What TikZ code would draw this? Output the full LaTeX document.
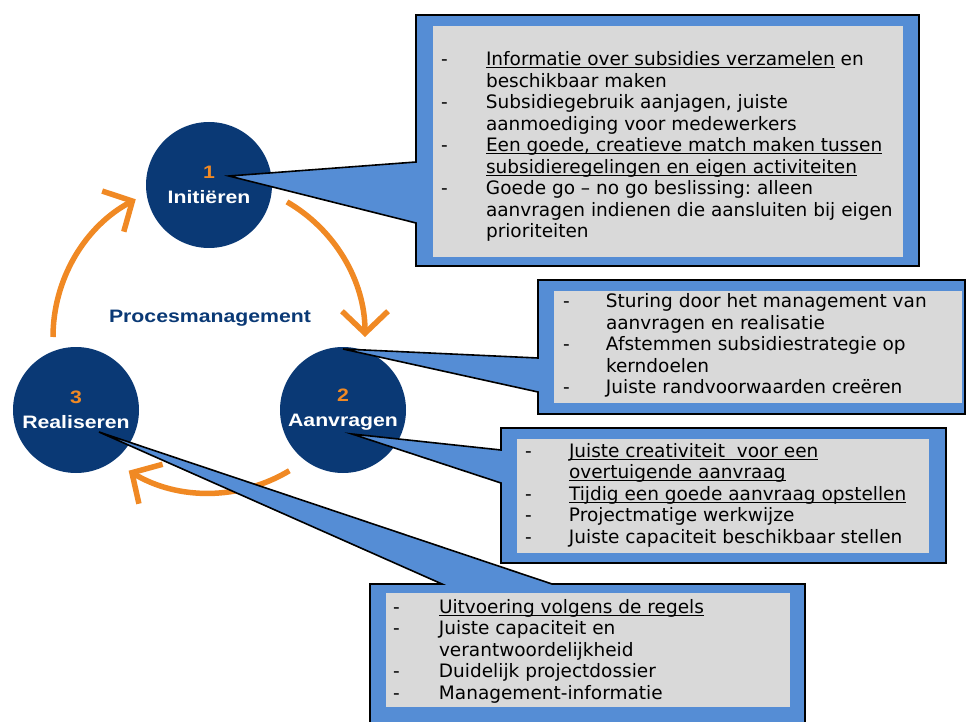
\documentclass[tikz,border=0pt]{standalone}
\usepackage{fontspec}
\setmainfont{DejaVu Sans}
\newfontfamily\stagefont[FakeStretch=1.18]{Liberation Sans}
\usetikzlibrary{arrows.meta}
\definecolor{calloutblue}{RGB}{85,141,213}
\definecolor{sheetgray}{RGB}{217,217,217}
\definecolor{stagenavy}{RGB}{10,57,117}
\definecolor{cycleorange}{RGB}{240,137,36}
\frenchspacing

\begin{document}
\begin{tikzpicture}[
	x=1pt, y=-1pt,
	stage/.style={circle, fill=stagenavy, minimum size=126pt, inner sep=0pt,
		text=white, align=center, font=\stagefont\bfseries\fontsize{18}{25}\selectfont},
	caption/.style={text=stagenavy, font=\stagefont\bfseries\fontsize{18}{22}\selectfont},
	turn/.style={draw=cycleorange, line width=5.5pt, -{Straight Barb[length=22pt, width=46pt]}},
	frame/.style={rectangle, inner sep=0pt},
	bubble/.style={fill=calloutblue, draw=black, line width=1.6pt},
	sheet/.style={fill=sheetgray},
	list/.style={anchor=base west, inner sep=0pt, font=\fontsize{18.5}{21.5}\selectfont},
	every node/.style={outer sep=0pt},
]
\clip (0,0) rectangle (967,722);
% \undl{text}: underline at a fixed depth below the baseline.
\def\undl#1{\setbox0\hbox{#1}\rlap{\rule[-2.5pt]{\wd0}{1pt}}\box0\relax}
% \callout(box){tip}{upper y}{lower y}: balloon with its tail on the left side.
\def\callout(#1)#2#3#4{
	\draw[bubble] (#1.north west) -- (#1.north east) -- (#1.south east)
		-- (#1.south west) -- (#1.west |- 0,#4) -- (#2) -- (#1.west |- 0,#3) -- cycle;
}
	% cycle of arrows
	\coordinate (hub) at (209,337);
	\draw[turn] ([shift={(-60:156)}]hub) arc[start angle=-60, end angle=0, radius=156];
	\draw[turn] ([shift={(59:156)}]hub) arc[start angle=59, end angle=121, radius=156];
	\draw[turn] ([shift={(180:156)}]hub) arc[start angle=180, end angle=242, radius=156];
	\node[caption] (title) at (210,318) {Procesmanagement};

	\node[stage] (init) at (209,185) {\textcolor{cycleorange}{1}\\Initiëren};
	\node[stage] (aanv) at (343,410) {\textcolor{cycleorange}{2}\\Aanvragen};
	\node[stage] (real) at (76,410) {\textcolor{cycleorange}{3}\\Realiseren};

	\coordinate (initTip) at (229,176);
	\coordinate (aanvTipA) at (343,349);
	\coordinate (aanvTipB) at (352,434);
	\coordinate (realTip) at (99,432);

	\node[frame, minimum width=503pt, minimum height=251pt] (infoA) at (667.5,140.5) {};
	\node[frame, minimum width=427pt, minimum height=134pt] (infoB) at (751.5,347) {};
	\node[frame, minimum width=445pt, minimum height=135pt] (infoC) at (723.5,495.5) {};
	\node[frame, minimum width=435pt, minimum height=156pt] (infoD) at (587.5,662) {};

	\callout(infoA){initTip}{162}{223}
	\callout(infoB){aanvTipA}{358}{392}
	\callout(infoC){aanvTipB}{450}{483}
	\draw[bubble] (infoD.north west) -- (infoD.north -| 442,0) -- (realTip)
		-- (infoD.north -| 552,0) -- (infoD.north east) -- (infoD.south east)
		-- (infoD.south west) -- cycle;

	\fill[sheet] (433,26) rectangle (903,257);
	\fill[sheet] (554,291) rectangle (962,403);
	\fill[sheet] (517,439) rectangle (929,553);
	\fill[sheet] (386,593) rectangle (790,707);

	\node[list] (textA) at (441,66) {\begin{tabular}[t]{@{}p{45pt}@{}l@{}}
		- & \undl{Informatie over subsidies verzamelen} en\\
		  & beschikbaar maken\\
		- & Subsidiegebruik aanjagen, juiste\\
		  & aanmoediging voor medewerkers\\
		- & \undl{Een goede, creatieve match maken tussen}\\
		  & \undl{subsidieregelingen en eigen activiteiten}\\
		- & Goede go – no go beslissing: alleen\\
		  & aanvragen indienen die aansluiten bij eigen\\
		  & prioriteiten
	\end{tabular}};
	\node[list] (textB) at (563,308) {\begin{tabular}[t]{@{}p{43pt}@{}l@{}}
		- & Sturing door het management van\\
		  & aanvragen en realisatie\\
		- & Afstemmen subsidiestrategie op\\
		  & kerndoelen\\
		- & Juiste randvoorwaarden creëren
	\end{tabular}};
	\node[list] (textC) at (525,457) {\begin{tabular}[t]{@{}p{44pt}@{}l@{}}
		- & \undl{Juiste creativiteit\ \ voor een}\\
		  & \undl{overtuigende aanvraag}\\
		- & \undl{Tijdig een goede aanvraag opstellen}\\
		- & Projectmatige werkwijze\\
		- & Juiste capaciteit beschikbaar stellen
	\end{tabular}};
	\node[list] (textD) at (393,613) {\begin{tabular}[t]{@{}p{46pt}@{}l@{}}
		- & \undl{Uitvoering volgens de regels}\\
		- & Juiste capaciteit en\\
		  & verantwoordelijkheid\\
		- & Duidelijk projectdossier\\
		- & Management-informatie
	\end{tabular}};
\end{tikzpicture}
\end{document}
